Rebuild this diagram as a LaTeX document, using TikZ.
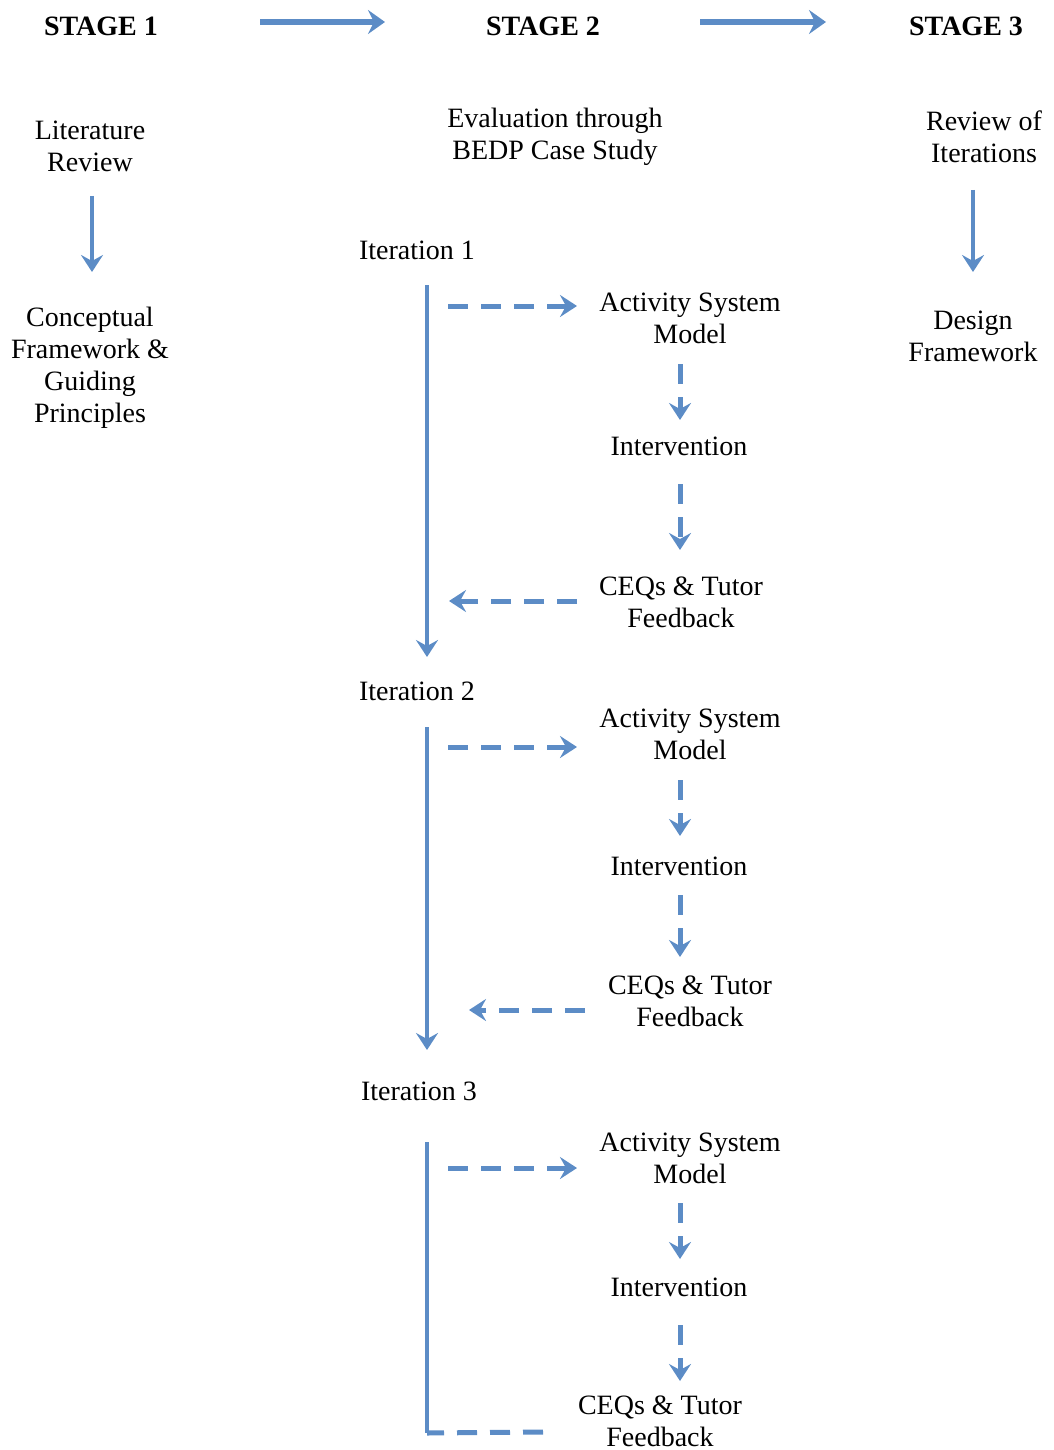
\documentclass[tikz,border=0pt]{standalone}
\usepackage{fontspec}
\setmainfont{Liberation Serif}
\usetikzlibrary{arrows.meta}
\definecolor{flowblue}{RGB}{92,140,198}
\begin{document}
\begin{tikzpicture}[x=1pt,y=-1pt,
  lbl/.style={inner sep=0pt,align=center,font=\fontsize{28}{32}\selectfont},
  head/.style={inner sep=0pt,font=\fontsize{28}{32}\selectfont\bfseries},
  solidarrow/.style={flowblue,line width=4pt,-{Stealth[length=17pt,width=22pt,inset=6pt]}},
  bigarrow/.style={flowblue,line width=5.5pt,-{Stealth[length=17pt,width=24pt,inset=6pt]}},
  dasharrow/.style={flowblue,line width=5pt,dash pattern=on 20pt off 13pt,-{Stealth[length=17pt,width=22pt,inset=6pt]}},
  dashline/.style={flowblue,line width=5pt,dash pattern=on 20pt off 13pt}]
\useasboundingbox (0,0) rectangle (1053,1450);

% stage headings
\node[head] (s1) at (101,26) {STAGE 1};
\node[head] (s2) at (543,26) {STAGE 2};
\node[head] (s3) at (966,26) {STAGE 3};
\draw[bigarrow] (260,22) coordinate (a1s) -- (385,22) coordinate (a1e);
\draw[bigarrow] (700,22) coordinate (a2s) -- (826,22) coordinate (a2e);

% stage 1 column
\node[lbl] (lit) at (90,146) {Literature\\Review};
\node[lbl] (cf) at (90,368) {Conceptual\\Framework \&\\Guiding\\Principles};
\draw[solidarrow] (92,196) coordinate (l1) -- (92,272) coordinate (l2);

% stage 3 column
\node[lbl] (rev) at (984,137) {Review of\\Iterations};
\node[lbl] (des) at (973,336) {Design\\Framework};
\draw[solidarrow] (973,190) coordinate (r1) -- (973,272) coordinate (r2);

% stage 2 heading
\node[lbl] (eval) at (555,137) {Evaluation through\\BEDP Case Study};

% iteration 1
\node[lbl] (it1) at (417,250) {Iteration 1};
\node[lbl] (asm1) at (690,318) {Activity System\\Model};
\node[lbl] (int1) at (679,446) {Intervention};
\node[lbl] (ceq1) at (681,602) {CEQs \& Tutor\\Feedback};
\draw[solidarrow] (427,285) coordinate (v1s) -- (427,657) coordinate (v1e);
\draw[dasharrow] (448,306) coordinate (d1a) -- (577,306) coordinate (d1b);
\draw[dasharrow] (680,364) coordinate (d1c) -- (680,420) coordinate (d1d);
\draw[dasharrow] (680,484) coordinate (d1e) -- (680,550) coordinate (d1f);
\draw[dasharrow] (577,601) coordinate (d1g) -- (449,601) coordinate (d1h);

% iteration 2
\node[lbl] (it2) at (417,691) {Iteration 2};
\node[lbl] (asm2) at (690,734) {Activity System\\Model};
\node[lbl] (int2) at (679,866) {Intervention};
\node[lbl] (ceq2) at (690,1001) {CEQs \& Tutor\\Feedback};
\draw[solidarrow] (427,727) coordinate (v2s) -- (427,1050) coordinate (v2e);
\draw[dasharrow] (448,747) coordinate (d2a) -- (577,747) coordinate (d2b);
\draw[dasharrow] (680,780) coordinate (d2c) -- (680,836) coordinate (d2d);
\draw[dasharrow] (680,895) coordinate (d2e) -- (680,957) coordinate (d2f);
\draw[dasharrow] (585,1010) coordinate (d2g) -- (469,1010) coordinate (d2h);

% iteration 3
\node[lbl] (it3) at (419,1091) {Iteration 3};
\node[lbl] (asm3) at (690,1158) {Activity System\\Model};
\node[lbl] (int3) at (679,1287) {Intervention};
\node[lbl] (ceq3) at (660,1421) {CEQs \& Tutor\\Feedback};
\draw[flowblue,line width=4pt] (427,1142) coordinate (v3s) -- (427,1433) coordinate (v3e);
\draw[dasharrow] (448,1168) coordinate (d3a) -- (577,1168) coordinate (d3b);
\draw[dasharrow] (680,1203) coordinate (d3c) -- (680,1259) coordinate (d3d);
\draw[dasharrow] (680,1325) coordinate (d3e) -- (680,1381) coordinate (d3f);
\draw[dashline] (543,1432) coordinate (d3g) -- (v3e);
\end{tikzpicture}
\end{document}
